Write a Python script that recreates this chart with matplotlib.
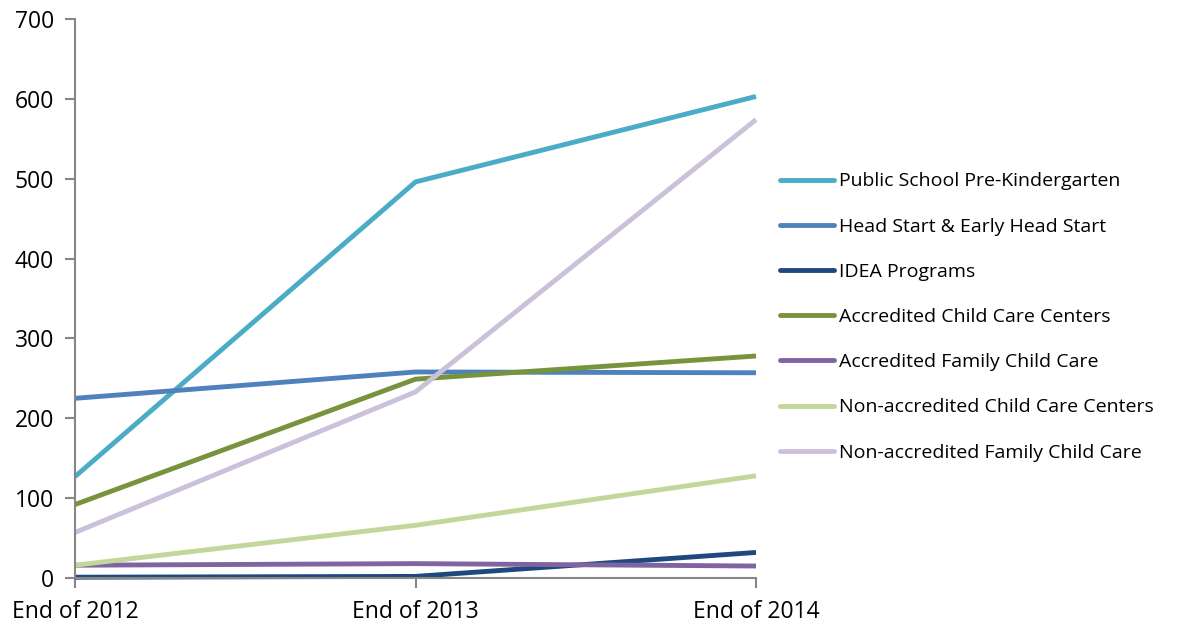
import matplotlib.pyplot as plt

# categories and series
years = ["End of 2012", "End of 2013", "End of 2014"]
public_prek = [127, 496, 603]
head_start = [225, 258, 257]
idea = [1, 2, 32]
acc_centers = [92, 249, 278]
acc_family = [16, 18, 15]
nonacc_centers = [16, 66, 128]
nonacc_family = [57, 233, 574]

series = [
    ("Public School Pre-Kindergarten", public_prek, "#4BACC6"),
    ("Head Start & Early Head Start", head_start, "#4F81BD"),
    ("IDEA Programs", idea, "#1F497D"),
    ("Accredited Child Care Centers", acc_centers, "#77933C"),
    ("Accredited Family Child Care", acc_family, "#8064A2"),
    ("Non-accredited Child Care Centers", nonacc_centers, "#C3D69B"),
    ("Non-accredited Family Child Care", nonacc_family, "#CCC1DA"),
]

plt.rcParams["font.family"] = ["Open Sans", "DejaVu Sans"]

fig = plt.figure(figsize=(11.77, 6.24), dpi=100)
ax = fig.add_axes([75 / 1177, 1 - 578 / 624, (756 - 75) / 1177, (578 - 19) / 624])

x = range(len(years))
for name, vals, col in series:
    ax.plot(x, vals, color=col, lw=3.5, label=name, solid_capstyle="butt",
            clip_on=False)

ax.set_xlim(0, 2)
ax.set_ylim(0, 700)
ax.set_yticks(range(0, 701, 100))
ax.set_xticks(list(x))
ax.set_xticklabels(years)

for s in ["top", "right"]:
    ax.spines[s].set_visible(False)
for s in ["left", "bottom"]:
    ax.spines[s].set_color("#868686")
    ax.spines[s].set_linewidth(1.5)
ax.tick_params(axis="both", colors="#868686", length=7, width=1.5,
               labelcolor="black", labelsize=16.5)
ax.tick_params(axis="y", pad=8)
ax.tick_params(axis="x", pad=9)

leg = ax.legend(loc="upper left", bbox_to_anchor=(1.01, 0.757), frameon=False,
                fontsize=14, handlelength=2.75, handletextpad=0.25,
                labelspacing=1.40)
for h in leg.get_lines():
    h.set_solid_capstyle("round")

fig.savefig("out.png", dpi=100)
